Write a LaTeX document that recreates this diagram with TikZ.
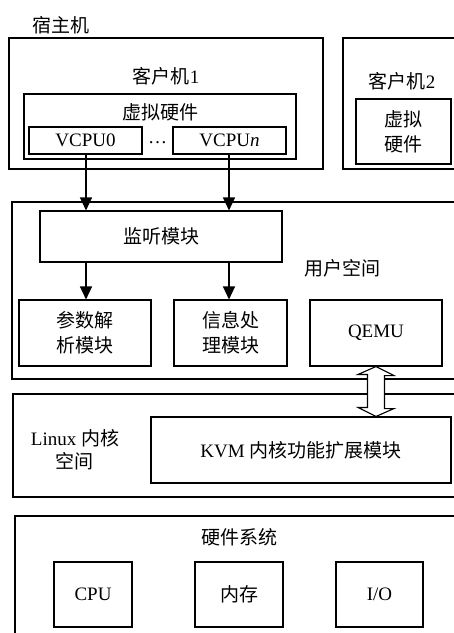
\documentclass[tikz,border=0pt]{standalone}
\usepackage{fontspec}
\setmainfont{Liberation Serif}
\newfontfamily\cjk{Noto Sans CJK SC}
\usetikzlibrary{arrows.meta}
\begin{document}
\begin{tikzpicture}[x=1pt,y=-1pt,line width=1.1pt,
  every node/.style={font=\fontsize{19}{25}\selectfont},
  box/.style={draw,rectangle,inner sep=0pt,align=center},
  lbl/.style={inner sep=0pt,align=center},
  arr/.style={-{Triangle[width=12pt,length=13pt]},line width=1.4pt}]
\useasboundingbox (0,0) rectangle (454,633);
\clip (0,0) rectangle (454,633);
% host label
\node[lbl] (host) at (61,25) {\cjk 宿主机};
% guest 1
\node[box,minimum width=314pt,minimum height=131pt] (g1) at (166,103.5) {};
\node[lbl] (g1t) at (166,76) {{\cjk 客户机}1};
\node[box,minimum width=272pt,minimum height=65pt] (vh1) at (160,126.5) {};
\node[lbl] (vh1t) at (160,112) {\cjk 虚拟硬件};
\node[box,minimum width=113pt,minimum height=27pt] (v0) at (85.5,140.5) {VCPU0};
\node[box,minimum width=113pt,minimum height=27pt] (vn) at (229.5,140.5) {VCPU\textit{n}};
\node[lbl] (dots) at (157.5,143) {\dots};
% guest 2
\node[box,minimum width=127pt,minimum height=131pt] (g2) at (406.5,103.5) {};
\node[lbl] (g2t) at (402,81) {{\cjk 客户机}2};
\node[box,minimum width=95pt,minimum height=65pt] (vh2) at (403.5,131.5) {\cjk 虚拟\\\cjk 硬件};
% user space
\node[box,minimum width=448pt,minimum height=177pt] (us) at (236,290.5) {};
\node[lbl] (ust) at (342,268) {\cjk 用户空间};
\node[box,minimum width=242pt,minimum height=51pt] (lis) at (161,236.5) {\cjk 监听模块};
\node[box,minimum width=132pt,minimum height=66pt] (par) at (85,333) {\cjk 参数解\\\cjk 析模块};
\node[box,minimum width=113pt,minimum height=66pt] (inf) at (230.5,333) {\cjk 信息处\\\cjk 理模块};
\node[box,minimum width=132pt,minimum height=66pt] (qemu) at (376,333) {QEMU};
% kernel
\node[box,minimum width=447pt,minimum height=103pt] (lk) at (236.5,445.5) {};
\node[lbl,font=\fontsize{19}{23}\selectfont] (lkt) at (75,450) {Linux {\cjk 内核}\\\cjk 空间};
\node[box,minimum width=300pt,minimum height=66pt] (kvm) at (301,450) {KVM {\cjk 内核功能扩展模块}};
% hardware
\node[box,minimum width=445pt,minimum height=140pt] (hw) at (237.5,586) {};
\node[lbl] (hwt) at (239,537) {\cjk 硬件系统};
\node[box,minimum width=78pt,minimum height=65pt] (cpu) at (93,594.5) {CPU};
\node[box,minimum width=88pt,minimum height=65pt] (mem) at (239,594.5) {\cjk 内存};
\node[box,minimum width=87pt,minimum height=65pt] (io) at (379.5,594.5) {I/O};
% arrows
\coordinate (s0) at (86,154);
\coordinate (sn) at (229,154);
\coordinate (a1) at (86,262);
\coordinate (a2) at (229,262);
\draw[arr] (s0) -- (s0 |- lis.north);
\draw[arr] (sn) -- (sn |- lis.north);
\draw[arr] (a1) -- (a1 |- par.north);
\draw[arr] (a2) -- (a2 |- inf.north);
% hollow double arrow
\coordinate (tt) at (qemu.south);
\coordinate (bt) at (qemu.south |- kvm.north);
\filldraw[fill=white,line width=1.1pt]
  (tt) -- ++(18,9) -- ++(-9.5,0) -- ++(0,33) -- ++(9.5,0) -- (bt)
  -- ++(-18,-9) -- ++(9.5,0) -- ++(0,-33) -- ++(-9.5,0) -- cycle;
\end{tikzpicture}
\end{document}
